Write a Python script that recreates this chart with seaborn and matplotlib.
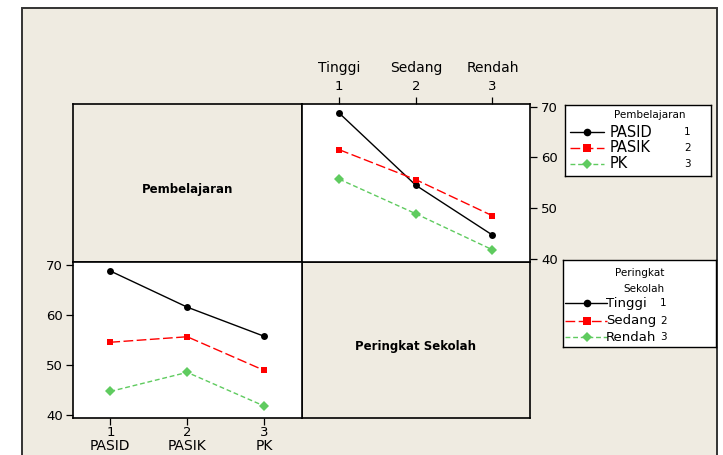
#!/usr/bin/env python3
"""Interaction plot (Minitab style): Pembelajaran x Peringkat Sekolah means."""

import matplotlib.pyplot as plt
import matplotlib.patches as mpatches
import pandas as pd
import seaborn as sns

W, H = 723, 455

PEMBELAJARAN = ["PASID", "PASIK", "PK"]
PERINGKAT = ["Tinggi", "Sedang", "Rendah"]
LEVELS = [1, 2, 3]

# mean score per Pembelajaran (rows) across Peringkat Sekolah (Tinggi, Sedang, Rendah)
PASID_MEANS = [68.7, 54.5, 44.7]
PASIK_MEANS = [61.5, 55.6, 48.5]
PK_MEANS = [55.7, 48.9, 41.8]

Y_TICKS = [40, 50, 60, 70]

BEIGE = "#EFEBE1"
GREEN = "#5FCB5F"
COLORS = ["#000000", "#FF0000", GREEN]
MARKERS = ["o", "s", "D"]
DASHES = ["", (7, 2.5), (3.5, 2)]


def px_rect(x0, y0, w, h):
    return [x0 / W, 1 - (y0 + h) / H, w / W, h / H]


def long_frame():
    rows = []
    for name, vals in zip(PEMBELAJARAN, [PASID_MEANS, PASIK_MEANS, PK_MEANS]):
        for i, (lvl, v) in enumerate(zip(LEVELS, vals)):
            rows.append({"pemb": name, "pemb_lvl": PEMBELAJARAN.index(name) + 1,
                         "per": PERINGKAT[i], "per_lvl": lvl, "mean": v})
    return pd.DataFrame(rows)


def style_axes(ax):
    ax.set_facecolor("white")
    ax.set_xlim(0.51, 3.49)
    ax.set_ylim(39.4, 70.5)
    ax.set_xticks(LEVELS)
    ax.set_xticklabels([str(v) for v in LEVELS])
    ax.set_yticks(Y_TICKS)
    ax.set_xlabel("")
    ax.set_ylabel("")
    for s in ax.spines.values():
        s.set_color("black")
        s.set_linewidth(1.2)
    ax.tick_params(length=5, width=0.9, labelsize=9.5, colors="black", pad=2)


def draw_lines(ax, df, x, hue, order):
    sns.lineplot(
        data=df, x=x, y="mean", hue=hue, style=hue,
        hue_order=order, style_order=order,
        palette=dict(zip(order, COLORS)),
        markers=dict(zip(order, MARKERS)),
        dashes=dict(zip(order, DASHES)),
        markersize=5, markeredgewidth=0, linewidth=1.0,
        legend=False, ax=ax,
    )


def draw_legend(fig, rect, titles, labels, label_x, num_x, handle, rows_y, fs):
    ax = fig.add_axes(px_rect(*rect))
    ax.set_xlim(0, rect[2])
    ax.set_ylim(rect[3], 0)
    ax.set_xticks([])
    ax.set_yticks([])
    ax.set_facecolor("white")
    for s in ax.spines.values():
        s.set_color("black")
        s.set_linewidth(1.0)
    for tx, ty, t, ha in titles:
        ax.text(tx, ty, t, fontsize=7.5, ha=ha, va="center")
    hx0, hx1, hm = handle
    for lab, num, y, c, m, d in zip(labels, LEVELS, rows_y, COLORS, MARKERS, DASHES):
        ls = "-" if d == "" else (0, d)
        ax.plot([hx0, hx1], [y, y], color=c, linestyle=ls, linewidth=1.0)
        ax.plot([hm], [y], marker=m, color=c, markersize=5.5, markeredgewidth=0)
        ax.text(label_x, y, lab, fontsize=fs, ha="left", va="center")
        ax.text(num_x, y, str(num), fontsize=7.5, ha="left", va="center")


def main():
    sns.set_style("ticks")
    plt.rcParams["font.family"] = ["DejaVu Sans"]
    plt.rcParams["text.color"] = "black"
    df = long_frame()

    fig = plt.figure(figsize=(W / 100, H / 100), dpi=100)
    fig.patch.set_facecolor("white")

    # beige Minitab page with a dark frame (open at the bottom)
    bg = fig.add_axes([0, 0, 1, 1], zorder=-10)
    bg.set_xlim(0, W)
    bg.set_ylim(H, 0)
    bg.axis("off")
    bg.add_patch(mpatches.Rectangle((22, 8), 717 - 22, H + 20, facecolor=BEIGE,
                                    edgecolor="#333333", linewidth=1.4))

    x0, xm, x1 = 72.7, 301.7, 530.0
    y0, ym, y1 = 104.0, 262.0, 418.0

    # diagonal label panels
    ax_tl = fig.add_axes(px_rect(x0, y0, xm - x0, ym - y0))
    ax_br = fig.add_axes(px_rect(xm, ym, x1 - xm, y1 - ym))
    for ax, txt in [(ax_tl, "Pembelajaran"), (ax_br, "Peringkat Sekolah")]:
        ax.set_facecolor(BEIGE)
        ax.set_xticks([])
        ax.set_yticks([])
        for s in ax.spines.values():
            s.set_color("black")
            s.set_linewidth(1.2)
        ax.text(0.5, 0.46, txt, transform=ax.transAxes, ha="center",
                va="center", fontsize=8.5, fontweight="bold")

    # top-right: x = Peringkat Sekolah, lines = Pembelajaran
    ax_tr = fig.add_axes(px_rect(xm, y0, x1 - xm, ym - y0))
    draw_lines(ax_tr, df, "per_lvl", "pemb", PEMBELAJARAN)
    style_axes(ax_tr)
    ax_tr.xaxis.tick_top()
    ax_tr.yaxis.tick_right()
    ax_tr.tick_params(pad=3)
    for lvl, name in zip(LEVELS, PERINGKAT):
        ax_tr.annotate(name, xy=(lvl, 1), xycoords=("data", "axes fraction"),
                       xytext=(0, 26), textcoords="offset points",
                       ha="center", va="center", fontsize=10)

    # bottom-left: x = Pembelajaran, lines = Peringkat Sekolah
    ax_bl = fig.add_axes(px_rect(x0, ym, xm - x0, y1 - ym))
    draw_lines(ax_bl, df, "pemb_lvl", "per", PERINGKAT)
    style_axes(ax_bl)
    ax_bl.tick_params(axis="x", pad=1)
    for lvl, name in zip(LEVELS, PEMBELAJARAN):
        ax_bl.annotate(name, xy=(lvl, 0), xycoords=("data", "axes fraction"),
                       xytext=(0, -20.5), textcoords="offset points",
                       ha="center", va="center", fontsize=10)

    draw_legend(fig, (565, 105, 146, 71),
                [(85, 10, "Pembelajaran", "center")],
                PEMBELAJARAN, 45, 119, (5, 39, 22), [27.3, 42.7, 59.0], 10.5)
    draw_legend(fig, (563, 260, 153, 87),
                [(101, 12.7, "Peringkat", "right"), (101, 29, "Sekolah", "right")],
                PERINGKAT, 43, 97, (2, 44, 24), [43.3, 60.7, 77.3], 9.5)

    fig.savefig("out.png", dpi=100, facecolor=fig.get_facecolor())
    plt.close(fig)


if __name__ == "__main__":
    main()
